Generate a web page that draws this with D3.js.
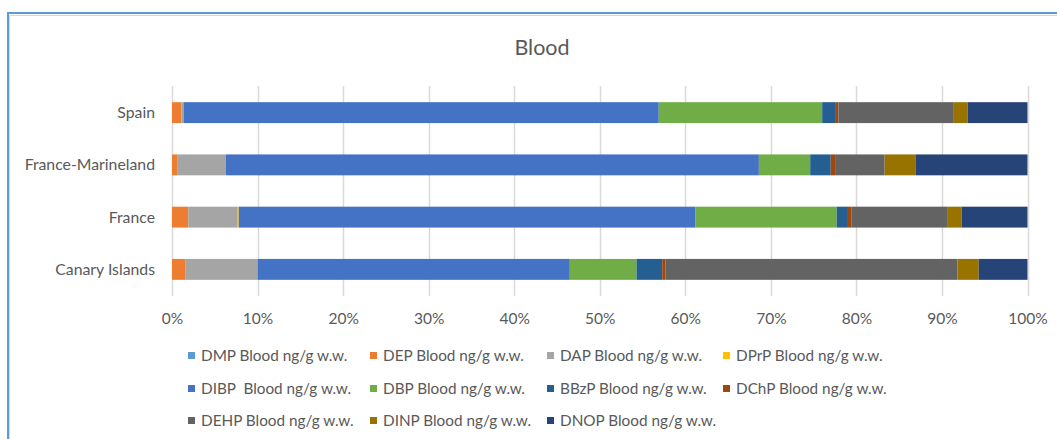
<!DOCTYPE html>
<html>
<head>
<meta charset="utf-8">
<script src="https://cdn.jsdelivr.net/npm/d3@7"></script>
<style>
  body { margin: 0; background: #fff; }
  text { font-family: "Lato", "Open Sans", sans-serif; fill: #595959; }
</style>
</head>
<body>
<div id="chart"></div>
<script>
// categories in Excel order (bottom to top)
const categories = ["Canary Islands", "France", "France-Marineland", "Spain"];
const seriesNames = [
  "DMP Blood ng/g w.w.", "DEP Blood ng/g w.w.", "DAP Blood ng/g w.w.", "DPrP Blood ng/g w.w.",
  "DIBP  Blood ng/g w.w.", "DBP Blood ng/g w.w.", "BBzP Blood ng/g w.w.", "DChP Blood ng/g w.w.",
  "DEHP Blood ng/g w.w.", "DINP Blood ng/g w.w.", "DNOP Blood ng/g w.w."
];
const colors = ["#5B9BD5", "#ED7D31", "#A5A5A5", "#FFC000", "#4472C4", "#70AD47",
                "#255E91", "#9E480E", "#636363", "#997300", "#264478"];

// shares per category (percent of total)
const dmp  = [0, 0, 0, 0];
const dep  = [1.6, 1.9, 0.6, 1.1];
const dap  = [8.4, 5.7, 5.7, 0.25];
const dprp = [0, 0.2, 0, 0];
const dibp = [36.5, 53.4, 62.3, 55.55];
const dbp  = [7.8, 16.5, 6.0, 19.1];
const bbzp = [3.0, 1.2, 2.4, 1.6];
const dchp = [0.4, 0.5, 0.6, 0.3];
const dehp = [34.1, 11.2, 5.7, 13.4];
const dinp = [2.5, 1.7, 3.6, 1.7];
const dnop = [5.7, 7.7, 13.1, 7.0];
const seriesValues = [dmp, dep, dap, dprp, dibp, dbp, bbzp, dchp, dehp, dinp, dnop];

const tickValues = [0, 0.1, 0.2, 0.3, 0.4, 0.5, 0.6, 0.7, 0.8, 0.9, 1];

const width = 1057, height = 439;
const svg = d3.select("#chart").append("svg")
  .attr("width", width).attr("height", height);

// chart frame (selected look: blue edge + grey inner shade)
svg.append("path").attr("d", `M9.5,${height} V15.5 H${width}`)
  .attr("fill", "none").attr("stroke", "#d9d9d9").attr("stroke-width", 1);
svg.append("path").attr("d", `M8,${height} V13 H${width}`)
  .attr("fill", "none").attr("stroke", "#5B9BD5").attr("stroke-width", 2);

svg.append("text")
  .attr("x", 542).attr("y", 55)
  .attr("text-anchor", "middle")
  .attr("font-size", 21.5)
  .text("Blood");

const x = d3.scaleLinear().domain([0, 1]).range([172, 1027.5]);
const y = d3.scaleBand()
  .domain(categories.slice().reverse())
  .range([86.5, 295.5])
  .paddingInner(0.6).paddingOuter(0.3);

// gridlines
svg.append("g").selectAll("line")
  .data(tickValues).join("line")
  .attr("x1", d => Math.round(x(d)) + 0.5).attr("x2", d => Math.round(x(d)) + 0.5)
  .attr("y1", 86).attr("y2", 296)
  .attr("stroke", "#d9d9d9").attr("stroke-width", 1.5);

const rows = categories.map((c, i) => {
  const r = { category: c };
  seriesNames.forEach((s, j) => r[s] = seriesValues[j][i]);
  return r;
});
const stacked = d3.stack().keys(seriesNames).offset(d3.stackOffsetExpand)(rows);

svg.append("g").selectAll("g")
  .data(stacked).join("g")
  .attr("fill", (d, i) => colors[i])
  .selectAll("rect")
  .data(d => d).join("rect")
  .attr("x", d => x(d[0]))
  .attr("width", d => Math.max(0, x(d[1]) - x(d[0])))
  .attr("y", d => y(d.data.category))
  .attr("height", y.bandwidth());

// category labels
svg.append("g").selectAll("text")
  .data(categories).join("text")
  .attr("x", 155)
  .attr("y", d => y(d) + y.bandwidth() / 2)
  .attr("dy", "0.35em")
  .attr("text-anchor", "end")
  .attr("font-size", 15.8)
  .text(d => d);

// x tick labels
const xAxis = svg.append("g")
  .attr("transform", "translate(0,296)")
  .call(d3.axisBottom(x).tickValues(tickValues).tickFormat(d3.format(".0%")).tickSize(0).tickPadding(17));
xAxis.select(".domain").remove();
xAxis.selectAll("text").attr("font-size", 15.5).attr("fill", "#595959")
  .style("font-family", "Lato, 'Open Sans', sans-serif");

// legend
const legendCols = [188, 370, 547, 723];
const legendRows = [356, 389, 421];
const legend = svg.append("g").selectAll("g")
  .data(seriesNames).join("g")
  .attr("transform", (d, i) => `translate(${legendCols[i % 4]},${legendRows[Math.floor(i / 4)]})`);
legend.append("rect")
  .attr("x", 0).attr("y", -4).attr("width", 7).attr("height", 7)
  .attr("fill", (d, i) => colors[i]);
legend.append("text")
  .attr("x", 13).attr("y", 0).attr("dy", "0.35em")
  .attr("font-size", 15.3)
  .style("white-space", "pre")
  .text(d => d);
</script>
</body>
</html>
